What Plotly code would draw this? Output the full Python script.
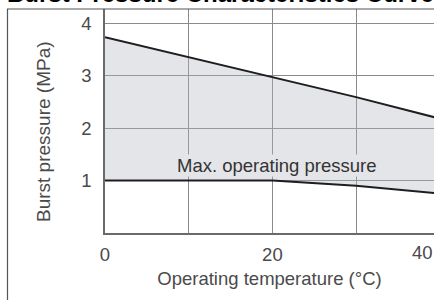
import plotly.graph_objects as go

# Data
temperature = [0, 10, 20, 30, 40]                 # °C
burst_pressure = [3.73, 3.35, 2.98, 2.59, 2.18]   # MPa
max_operating = [1.0, 1.0, 1.0, 0.9, 0.75]        # MPa

x_ticks = [0, 10, 20, 30]
x_ticktext = ["0", "", "20", ""]
y_ticks = [1, 2, 3, 4]
y_ticktext = ["1", "2", "3", "4"]

W, H = 434, 300
L, R, T, B = 105, 0, 9, 67
FONT = "Liberation Sans, Arial, sans-serif"
GRID = "#8a8a8a"
TXT = "#4a4a4a"

fig = go.Figure()
fig.add_trace(go.Scatter(x=temperature, y=max_operating, mode="lines",
                         line=dict(color="#1e1e1e", width=2), hoverinfo="skip",
                         showlegend=False))
fig.add_trace(go.Scatter(x=temperature, y=burst_pressure, mode="lines",
                         line=dict(color="#1e1e1e", width=2), fill="tonexty",
                         fillcolor="rgba(178,180,190,0.35)", hoverinfo="skip",
                         showlegend=False))

def px_to_paper_x(px):
    return (px - L) / (W - L - R)

def px_to_paper_y(py):
    return (H - B - py) / (H - T - B)

fig.add_annotation(x=20.5, y=1.29, xref="x", yref="y", text="Max. operating pressure",
                   showarrow=False, font=dict(family=FONT, size=18.5, color="#333333"),
                   bgcolor="#e4e5e9", borderpad=0)
fig.add_annotation(x=px_to_paper_x(422), y=px_to_paper_y(253), xref="paper", yref="paper",
                   text="40", showarrow=False, xanchor="center", yanchor="middle",
                   font=dict(family=FONT, size=18.5, color=TXT))
# y-axis title (placed as in the reference, slightly below centre)
fig.add_annotation(x=px_to_paper_x(43), y=px_to_paper_y(132), xref="paper", yref="paper",
                   text="Burst pressure (MPa)", textangle=-90, showarrow=False,
                   xanchor="center", yanchor="middle",
                   font=dict(family=FONT, size=19, color=TXT))

# outer frame
fig.add_shape(type="rect", xref="paper", yref="paper",
              x0=px_to_paper_x(7.5), x1=px_to_paper_x(470),
              y0=px_to_paper_y(330), y1=px_to_paper_y(9),
              line=dict(color="#555555", width=1.2), fillcolor="rgba(0,0,0,0)", layer="above")

fig.update_layout(
    width=W, height=H,
    margin=dict(l=L, r=R, t=T, b=B),
    paper_bgcolor="white", plot_bgcolor="white",
    title=dict(text="<b>Burst Pressure Characteristics Curve</b>",
               x=7 / W, xanchor="left", xref="container",
               y=1 - 2 / H, yref="container", yanchor="bottom",
               font=dict(family=FONT, size=24, color="black")),
    xaxis=dict(range=[0, (W - L - R) / 8.37], tickvals=x_ticks, ticktext=x_ticktext,
               showgrid=True, gridcolor=GRID, gridwidth=1, zeroline=False,
               showline=True, linecolor="#6a6a6a", linewidth=1.5,
               ticks="outside", ticklen=4, tickcolor="rgba(0,0,0,0)",
               tickfont=dict(family=FONT, size=18.5, color=TXT),
               title=dict(text="Operating temperature (°C)", standoff=8,
                          font=dict(family=FONT, size=18.5, color=TXT)),
               fixedrange=True),
    yaxis=dict(range=[0, 4.27], tickvals=y_ticks, ticktext=y_ticktext,
               showgrid=True, gridcolor=GRID, gridwidth=1, zeroline=False,
               showline=True, linecolor="#6a6a6a", linewidth=1.5,
               ticks="outside", ticklen=8, tickcolor="rgba(0,0,0,0)",
               tickfont=dict(family=FONT, size=18.5, color=TXT),
               fixedrange=True),
)

fig.write_html("out.html", config={"displayModeBar": False},
               post_script="document.body.style.margin='0';")
